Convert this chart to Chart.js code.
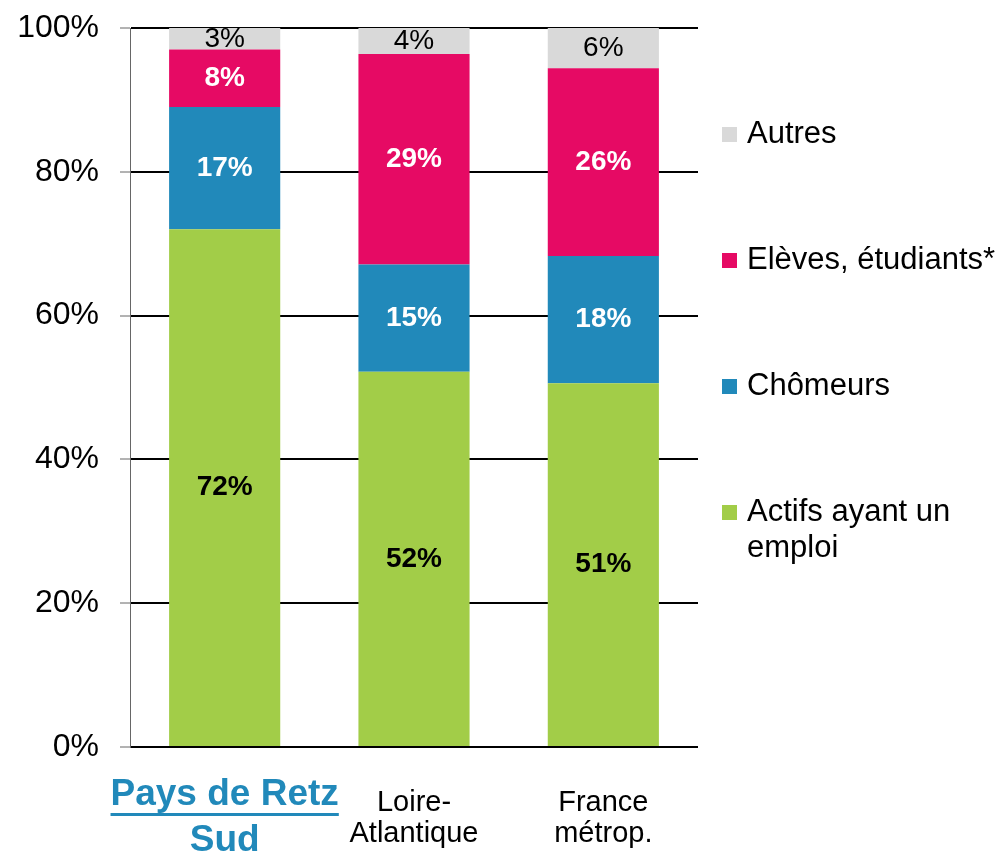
<!DOCTYPE html>
<html>
<head>
<meta charset="utf-8">
<script src="https://cdn.jsdelivr.net/npm/chart.js@4.4.0/dist/chart.umd.min.js"></script>
<style>
body { margin: 0; background: #fff; font-family: 'Liberation Sans', Arial, sans-serif; }
#wrap { position: relative; width: 1003px; height: 858px; }
#legend { position: absolute; left: 722px; top: 115px; }
.item { display: flex; align-items: flex-start; font-size: 31px; line-height: 36px; margin-bottom: 90px; color: #000; }
.box { width: 15px; height: 15px; margin-top: 12px; margin-right: 10px; flex: none; }
</style>
</head>
<body>
<div id="wrap">
  <canvas id="chart" width="1003" height="858"></canvas>
  <div id="legend"></div>
</div>
<script>
'use strict';
var categories = [['Pays de Retz', 'Sud'], ['Loire-', 'Atlantique'], ['France', 'métrop.']];
var seriesNames = ['Actifs ayant un emploi', 'Chômeurs', 'Elèves, étudiants*', 'Autres'];
var actifs = [72, 52.2, 50.6];
var chomeurs = [17, 14.9, 17.7];
var eleves = [8, 29.3, 26.1];
var autres = [3, 3.6, 5.6];
var yTicks = [0, 20, 40, 60, 80, 100];

var colors = ['#A2CD48', '#2189BA', '#E60A64', '#D9D9D9'];
var labelColors = ['#000', '#fff', '#fff', '#000'];
var labelFonts = ['bold 28px "Liberation Sans", Arial', 'bold 28px "Liberation Sans", Arial',
  'bold 28px "Liberation Sans", Arial', '28px "Liberation Sans", Arial'];
var seriesData = [actifs, chomeurs, eleves, autres];

// percentages written inside each segment
var valueLabels = {
  id: 'valueLabels',
  afterDatasetsDraw: function(chart) {
    var ctx = chart.ctx;
    chart.data.datasets.forEach(function(ds, i) {
      var meta = chart.getDatasetMeta(i);
      meta.data.forEach(function(bar, j) {
        ctx.save();
        ctx.font = labelFonts[i];
        ctx.fillStyle = labelColors[i];
        ctx.textAlign = 'center';
        ctx.textBaseline = 'middle';
        ctx.fillText(Math.round(ds.data[j]) + '%', bar.x, (bar.y + bar.base) / 2);
        ctx.restore();
      });
    });
  }
};

// category names under the bars, first one bold blue and underlined
var categoryLabels = {
  id: 'categoryLabels',
  afterDraw: function(chart) {
    var ctx = chart.ctx;
    var xScale = chart.scales.x;
    var bottom = chart.chartArea.bottom;
    categories.forEach(function(lines, i) {
      var x = xScale.getPixelForTick(i);
      var first = i === 0;
      var size = first ? 37 : 29;
      var lh = first ? 46 : 31;
      ctx.save();
      ctx.font = (first ? 'bold ' : '') + size + 'px "Liberation Sans", Arial';
      ctx.fillStyle = first ? '#2189BA' : '#000';
      ctx.textAlign = 'center';
      ctx.textBaseline = 'middle';
      var top = bottom + 71 - lh * lines.length / 2;
      lines.forEach(function(line, k) {
        var y = top + lh * k + lh / 2;
        ctx.fillText(line, x, y);
        if (first) {
          var w = ctx.measureText(line).width;
          ctx.fillRect(x - w / 2, y + 18, w, 3);
        }
      });
      ctx.restore();
    });
  }
};

var datasets = [];
for (var i = 0; i < seriesNames.length; i++) {
  datasets.push({
    label: seriesNames[i],
    data: seriesData[i],
    backgroundColor: colors[i],
    borderWidth: 0,
    barPercentage: 0.587,
    categoryPercentage: 1
  });
}

new Chart(document.getElementById('chart'), {
  type: 'bar',
  data: { labels: categories.map(function(c) { return c.join(' '); }), datasets: datasets },
  options: {
    responsive: false,
    animation: false,
    layout: { padding: { top: 28, right: 305, bottom: 0, left: 0 } },
    plugins: { legend: { display: false }, tooltip: { enabled: false } },
    scales: {
      x: {
        stacked: true,
        grid: { display: false },
        border: { display: false },
        ticks: { display: false },
        afterFit: function(scale) { scale.height = 111; }
      },
      y: {
        stacked: true,
        min: 0,
        max: 100,
        afterBuildTicks: function(scale) {
          scale.ticks = yTicks.map(function(v) { return { value: v }; });
        },
        afterFit: function(scale) {
          scale.width = 130;
          scale.paddingTop = 0;
          scale.paddingBottom = 0;
        },
        grid: { color: '#000', lineWidth: 2, tickLength: 10, tickColor: '#666', tickWidth: 1 },
        border: { display: true, color: '#666', width: 1 },
        ticks: {
          padding: 21,
          color: '#000',
          font: { family: '"Liberation Sans", Arial', size: 32 },
          callback: function(v) { return v + '%'; }
        }
      }
    }
  },
  plugins: [valueLabels, categoryLabels]
});

// legend, top to bottom in reverse stacking order
var legend = document.getElementById('legend');
for (var k = seriesNames.length - 1; k >= 0; k--) {
  var item = document.createElement('div');
  item.className = 'item';
  var box = document.createElement('div');
  box.className = 'box';
  box.style.background = colors[k];
  var text = document.createElement('div');
  text.textContent = seriesNames[k];
  text.style.width = '256px';
  text.style.whiteSpace = k === 0 ? 'normal' : 'nowrap';
  item.appendChild(box);
  item.appendChild(text);
  legend.appendChild(item);
}
</script>
</body>
</html>
